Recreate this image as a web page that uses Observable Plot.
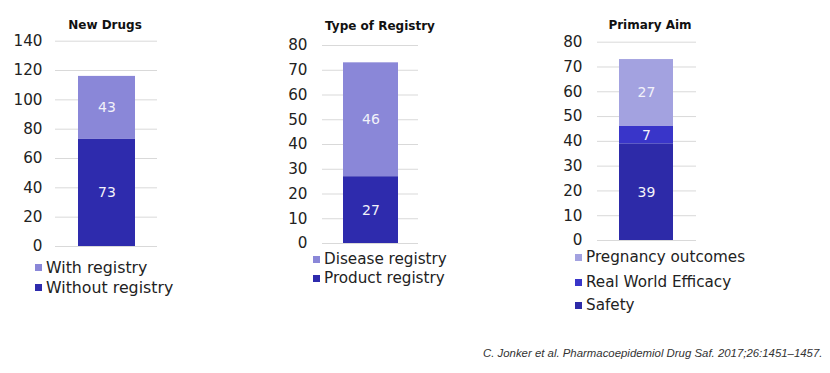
<!DOCTYPE html>
<html><head><meta charset="utf-8">
<script src="https://cdn.jsdelivr.net/npm/d3@7"></script>
<script src="https://cdn.jsdelivr.net/npm/@observablehq/plot@0.6"></script>
<style>
body{margin:0;background:#fff;}
#root{position:relative;width:830px;height:373px;overflow:hidden;font-family:"DejaVu Sans",Verdana,sans-serif;background:#fff;}
.title{position:absolute;font-weight:bold;font-size:12px;color:#111;transform:translate(-50%,-50%);white-space:nowrap;}
.panel{position:absolute;overflow:visible;}
.leg{position:absolute;color:#222;white-space:nowrap;display:flex;align-items:center;height:18px;}
.sw{width:7px;height:7px;margin-right:4px;display:inline-block;}
.caption{position:absolute;left:483px;top:347px;font-family:"Liberation Sans",Arial,sans-serif;font-style:italic;font-size:11.4px;color:#333;white-space:nowrap;}
</style>
</head><body>
<div id="root"></div>
<script>
// ---- data ----
const newDrugsTitle = "New Drugs";
const newDrugsCategories = ["Without registry", "With registry"];
const newDrugsValues = [73, 43];
const newDrugsTicks = [0, 20, 40, 60, 80, 100, 120, 140];

const registryTitle = "Type of Registry";
const registryCategories = ["Product registry", "Disease registry"];
const registryValues = [27, 46];
const registryTicks = [0, 10, 20, 30, 40, 50, 60, 70, 80];

const aimTitle = "Primary Aim";
const aimCategories = ["Safety", "Real World Efficacy", "Pregnancy outcomes"];
const aimValues = [39, 7, 27];
const aimTicks = [0, 10, 20, 30, 40, 50, 60, 70, 80];

const captionText = "C. Jonker et al. Pharmacoepidemiol Drug Saf. 2017;26:1451\u20131457.";

// ---- styles / layout ----
const colorMap = {
  "Without registry": "#2e2bad",
  "With registry": "#8a87d8",
  "Product registry": "#2e2bad",
  "Disease registry": "#8a87d8",
  "Safety": "#2d2aa8",
  "Real World Efficacy": "#3935c9",
  "Pregnancy outcomes": "#a3a2e0"
};

const panels = [
  {title: newDrugsTitle, cats: newDrugsCategories, vals: newDrugsValues, ticks: newDrugsTicks,
   left: 0, top: 30, width: 170, height: 228, mt: 10.7, mb: 12, ml: 55, mr: 13, pad: 0.283, tickPad: 13,
   titleX: 105, titleY: 25, legX: 35, legY: [267, 287], legFont: 15.8},
  {title: registryTitle, cats: registryCategories, vals: registryValues, ticks: registryTicks,
   left: 260, top: 30, width: 168, height: 225, mt: 15, mb: 12, ml: 62, mr: 10, pad: 0.271, tickPad: 15,
   titleX: 380, titleY: 26, legX: 313, legY: [259, 278], legFont: 15.2},
  {title: aimTitle, cats: aimCategories, vals: aimValues, ticks: aimTicks,
   left: 540, top: 30, width: 166, height: 222, mt: 11.7, mb: 12, ml: 57, mr: 10, pad: 0.286, tickPad: 15,
   titleX: 650, titleY: 25, legX: 575, legY: [257, 282, 305], legFont: 15.2}
];

const root = document.getElementById("root");

for (const p of panels) {
  const rows = p.cats.map((c, i) => ({group: p.title, category: c, value: p.vals[i]}));
  const yMax = p.ticks[p.ticks.length - 1];
  const chart = Plot.plot({
    width: p.width, height: p.height,
    marginTop: p.mt, marginBottom: p.mb, marginLeft: p.ml, marginRight: p.mr,
    style: {fontFamily: "DejaVu Sans, Verdana, sans-serif", fontSize: "15px", color: "#222", background: "transparent", overflow: "visible"},
    x: {domain: [p.title], padding: p.pad, axis: null},
    y: {domain: [0, yMax], axis: null},
    color: {domain: Object.keys(colorMap), range: Object.values(colorMap)},
    marks: [
      Plot.gridY(p.ticks, {stroke: "#d9d9d9", strokeOpacity: 1, strokeWidth: 1}),
      Plot.axisY(p.ticks, {tickSize: 0, tickPadding: p.tickPad, fontSize: 15.2, fill: "#222", label: null, tickFormat: d => String(d)}),
      Plot.barY(rows, Plot.stackY({x: "group", y: "value", fill: "category"})),
      Plot.text(rows, Plot.stackY({x: "group", y: "value", text: d => String(d.value), fill: "#f2f2fa", fontSize: 14}))
    ]
  });
  chart.classList.add("panel");
  chart.style.left = p.left + "px";
  chart.style.top = p.top + "px";
  root.appendChild(chart);

  const t = document.createElement("div");
  t.className = "title";
  t.textContent = p.title;
  t.style.left = p.titleX + "px";
  t.style.top = p.titleY + "px";
  root.appendChild(t);

  const legendCats = p.cats.slice().reverse();
  legendCats.forEach((c, i) => {
    const item = document.createElement("div");
    item.className = "leg";
    item.style.fontSize = p.legFont + "px";
    item.style.left = p.legX + "px";
    item.style.top = (p.legY[i] - 9) + "px";
    const sw = document.createElement("span");
    sw.className = "sw";
    sw.style.background = colorMap[c];
    item.appendChild(sw);
    item.appendChild(document.createTextNode(c));
    root.appendChild(item);
  });
}

const cap = document.createElement("div");
cap.className = "caption";
cap.textContent = captionText;
root.appendChild(cap);
</script>
</body></html>
